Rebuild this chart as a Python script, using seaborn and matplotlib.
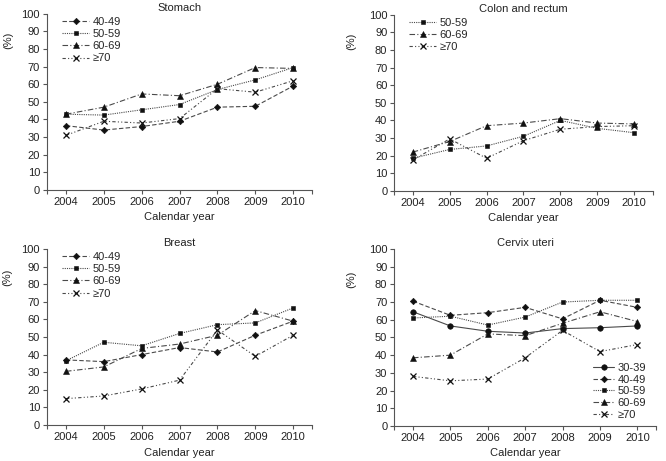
import numpy as np
import pandas as pd
import matplotlib
matplotlib.use("Agg")
import matplotlib.pyplot as plt
import seaborn as sns

years = [2004, 2005, 2006, 2007, 2008, 2009, 2010]

# Stomach
stomach_40 = [36.5, 34, 36, 39, 47, 47.5, 59]
stomach_50 = [43, 42.5, 45.5, 48.5, 57, 62.5, 69.5]
stomach_60 = [43, 47, 54.5, 53.5, 60, 69.5, 69]
stomach_70 = [31, 39, 38, 40.5, 57.5, 55.5, 62]

# Colon and rectum
colon_50 = [18.5, 23.5, 25.5, 31, 40, 35.5, 33]
colon_60 = [22, 28, 37, 38.5, 41, 38.5, 38]
colon_70 = [17.5, 29.5, 18.5, 28.5, 35, 36.5, 37]

# Breast
breast_40 = [37, 36, 40, 44, 41.5, 51, 59]
breast_50 = [36.5, 47, 45, 52, 57, 58, 66.5]
breast_60 = [30.5, 33, 43.5, 46, 51, 65, 59]
breast_70 = [15, 16.5, 20.5, 25.5, 54, 39, 51]

# Cervix uteri
cervix_30 = [64.5, 56.5, 53.5, 52.5, 55, 55.5, 56.5]
cervix_40 = [70.5, 62.5, 64, 67, 60.5, 71, 67]
cervix_50 = [61, 62, 57, 61.5, 70, 71, 71]
cervix_60 = [38.5, 40, 52, 51, 58, 64.5, 59]
cervix_70 = [28, 25.5, 26.5, 38.5, 54, 42, 46]

# line look per age group: marker, size, linestyle
styles = {
    "30-39": ("o", 4, "-"),
    "40-49": ("D", 3.3, (0, (4, 2))),
    "50-59": ("s", 3.3, (0, (1, 1))),
    "60-69": ("^", 4.2, (0, (5, 2, 1, 2))),
    "≥70": ("x", 3.8, (0, (3, 2, 1, 2, 1, 2))),
}

sns.set_style("ticks")
plt.rcParams["font.family"] = ["Liberation Sans", "DejaVu Sans"]
FS = 8

fig = plt.figure(figsize=(6.66, 4.61), dpi=100)
ax_st = fig.add_axes([0.0706, 0.588, 0.398, 0.382])
ax_co = fig.add_axes([0.592, 0.586, 0.388, 0.382])
ax_br = fig.add_axes([0.0706, 0.078, 0.398, 0.382])
ax_ce = fig.add_axes([0.592, 0.076, 0.393, 0.384])

panels = [
    (ax_st, "Stomach", {"40-49": stomach_40, "50-59": stomach_50, "60-69": stomach_60, "≥70": stomach_70}, "upper left", -0.128, 0.85),
    (ax_co, "Colon and rectum", {"50-59": colon_50, "60-69": colon_60, "≥70": colon_70}, "upper left", -0.147, 0.85),
    (ax_br, "Breast", {"40-49": breast_40, "50-59": breast_50, "60-69": breast_60, "≥70": breast_70}, "upper left", -0.13, 0.84),
    (ax_ce, "Cervix uteri", {"30-39": cervix_30, "40-49": cervix_40, "50-59": cervix_50, "60-69": cervix_60, "≥70": cervix_70}, "lower right", -0.145, 0.83),
]

for ax, title, series, loc, lx, ly in panels:
    for age, vals in series.items():
        mk, ms, ls = styles[age]
        sns.lineplot(x=years, y=vals, ax=ax, label=age, color="#4a4a4a", linewidth=0.8,
                     linestyle=ls, marker=mk, markersize=ms, mfc="#111111", mec="#111111",
                     mew=0.9 if mk == "x" else 0.4)
    ax.set_xlim(2003.5, 2010.5)
    ax.set_ylim(0, 100)
    ax.set_xticks(years)
    ax.set_xticks([2003.5, 2010.5], minor=True)
    ax.set_yticks(range(0, 101, 10))
    ax.tick_params(axis="both", which="both", direction="out", length=3, width=0.8,
                   color="#555555", labelcolor="#222222", labelsize=FS, pad=2)
    for sp in ["top", "right"]:
        ax.spines[sp].set_visible(False)
    for sp in ["left", "bottom"]:
        ax.spines[sp].set_color("#555555")
        ax.spines[sp].set_linewidth(0.8)
    ax.set_title(title, fontsize=FS, pad=2, color="#222222")
    ax.set_xlabel("Calendar year", fontsize=FS, color="#222222", labelpad=4)
    ax.set_ylabel("(%)", fontsize=FS, color="#222222")
    ax.yaxis.set_label_coords(lx, ly)
    if loc == "upper left":
        ax.legend(loc="upper left", bbox_to_anchor=(0.02, 1.04), frameon=False,
                  handlelength=2.4, labelspacing=0.2, handletextpad=0.3, fontsize=FS)
    else:
        ax.legend(loc="lower right", bbox_to_anchor=(1.0, -0.02), frameon=False,
                  handlelength=1.9, labelspacing=0.15, handletextpad=0.3, fontsize=FS)

fig.savefig("out.png", dpi=100)
